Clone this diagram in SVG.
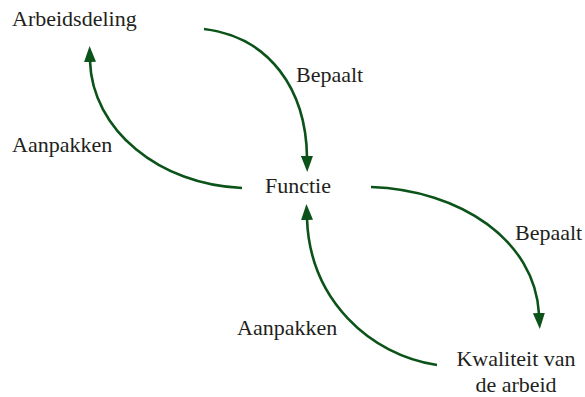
<svg xmlns="http://www.w3.org/2000/svg" width="585" height="397" viewBox="0 0 585 397">
<style>
text{font-family:'Liberation Serif','Times New Roman',serif;font-size:22px;fill:#231f20}
.c{fill:none;stroke:#0b5319;stroke-width:2.6;marker-end:url(#ah)}
</style>
<defs>
<marker id="ah" viewBox="0 0 16 12" refX="1" refY="6" markerWidth="16" markerHeight="12" markerUnits="userSpaceOnUse" orient="auto">
<path d="M0,0 L16,6 L0,12 z" fill="#0b5319"/>
</marker>
</defs>
<rect width="585" height="397" fill="#fff"/>
<g id="connectors">
<path class="c" d="M204,29 C270,37 306,90 307,157"/>
<path class="c" d="M242,188 C160,185 92,130 90,61"/>
<path class="c" d="M371,187 C460,190 535,240 539,314"/>
<path class="c" d="M437,365 C370,355 310,300 307,219"/>
<text x="296" y="82" font-family="Liberation Serif">Bepaalt</text>
<text x="12" y="152" font-family="Liberation Serif">Aanpakken</text>
<text x="515" y="240" font-family="Liberation Serif">Bepaalt</text>
<text x="237" y="335" font-family="Liberation Serif">Aanpakken</text>
</g>
<g id="arbeidsdeling"><text x="12" y="26" font-family="Liberation Serif">Arbeidsdeling</text></g>
<g id="functie"><text x="265" y="193" font-family="Liberation Serif">Functie</text></g>
<g id="kwaliteit"><text x="516" y="366" text-anchor="middle" font-family="Liberation Serif">Kwaliteit van</text><text x="516" y="392" text-anchor="middle" font-family="Liberation Serif">de arbeid</text></g>
</svg>
